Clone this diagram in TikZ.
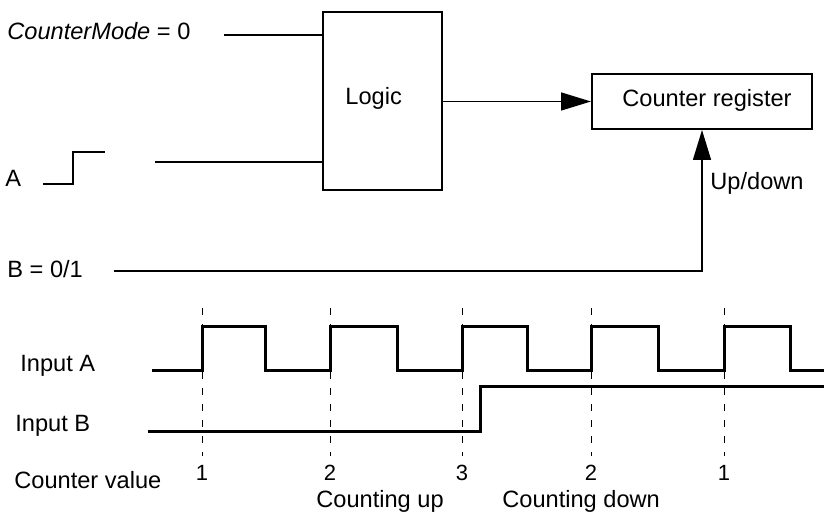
\documentclass[tikz,border=0pt]{standalone}
\usepackage{fontspec}
\setmainfont{Liberation Sans}
\usetikzlibrary{arrows.meta,positioning,calc}
\tikzset{
  base/.style={font=\fontsize{11.8}{14}\selectfont, inner sep=0pt, text=black},
  lbl/.style={base, anchor=base west},
  num/.style={base, anchor=base, font=\fontsize{11}{13}\selectfont},
  box/.style={base, rectangle, draw=black, line width=0.7pt},
  regbox/.style={box, line width=1pt},
  wire/.style={line width=0.75pt, draw=black},
  arr/.style={wire, -{Triangle[length=15pt,width=9pt]}},
  wave/.style={line width=1.5pt, draw=black, line join=miter},
  tick/.style={line width=0.5pt, draw=black, dash pattern=on 3.5pt off 4.5pt},
}

\begin{document}
\begin{tikzpicture}[x=0.5pt,y=-0.5pt]
  \useasboundingbox (0,0) rectangle (824,517);
  % block part
  \node[box,minimum width=59.5pt,minimum height=89pt] (logic) at (382.5,101) {};
  \node[lbl] (logictxt) at (345,105) {Logic};
  \node[regbox,minimum width=110pt,minimum height=27.5pt] (reg) at (702,101.5) {};
  \node[lbl] (regtxt) at (622,107) {Counter register};
  \node[lbl] (cmtxt) at (7,40) {\textit{CounterMode} = 0};
  \node[lbl] (atxt) at (5,187) {A};
  \node[lbl] (btxt) at (7,278) {B = 0/1};
  \node[lbl] (udtxt) at (710,190) {Up/down};
  \draw[wire] (43,184) -- (73,184) -- (73,152) -- (105,152);
  \coordinate (cmin) at (224,35);
  \coordinate (ain) at (155,162);
  \coordinate (bin) at (114,271);
  \draw[wire] (cmin) -- (cmin -| logic.west);
  \draw[wire] (ain) -- (ain -| logic.west);
  \draw[arr] (logic.east |- reg.west) -- (reg.west);
  \draw[arr] (bin) -| (reg.south);
  % timing part
  \node[lbl] (intxta) at (20,372) {Input A};
  \node[lbl] (intxtb) at (15,432) {Input B};
  \node[lbl] (cvtxt) at (14,488) {Counter value};
  \foreach \x/\v [count=\i] in {202/1,330/2,462/3,591/2,724/1}{
    \draw[tick] (\x,308) -- (\x,456);
    \node[num] (cv\i) at (\x,481) {\v};
  }
  \draw[wave] (152,371) \foreach \r/\f in {202/265,330/397,462/527,591/658,724/790}{
    -- (\r,371) -- (\r,327) -- (\f,327) -- (\f,371)} -- (824,371);
  \draw[wave] (148,432) -- (480,432) -- (480,387) -- (824,387);
  \node[lbl] (uptxt) at (316,508) {Counting up};
  \node[lbl] (downtxt) at (502,508) {Counting down};
\end{tikzpicture}
\end{document}
